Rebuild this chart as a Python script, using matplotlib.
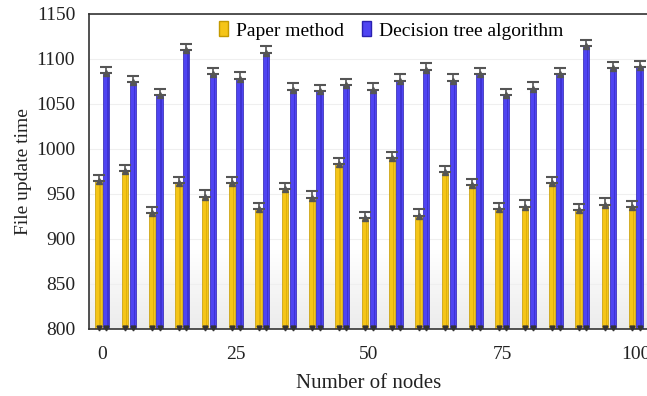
import numpy as np
import matplotlib
matplotlib.use("Agg")
import matplotlib.pyplot as plt
from matplotlib.patches import Patch

nodes = [0, 5, 10, 15, 20, 25, 30, 35, 40, 45, 50, 55, 60, 65, 70, 75, 80, 85, 90, 95, 100]
paper = [964, 975, 929, 962, 947, 962, 933, 955, 946, 983, 923, 990, 926, 974, 960, 933, 936, 962, 932, 938, 935]
tree = [1084, 1074, 1060, 1110, 1083, 1078, 1107, 1066, 1064, 1071, 1066, 1076, 1088, 1076, 1083, 1060, 1067, 1083, 1114, 1090, 1091]
paper_err = [7] * len(nodes)
tree_err = [7] * len(nodes)
xticks = [0, 25, 50, 75, 100]

plt.rcParams['font.family'] = ['Liberation Serif', 'DejaVu Serif']

fig = plt.figure(figsize=(6.47, 3.96), dpi=100)
ax = fig.add_axes([0.1376, 0.1692, 0.8655, 0.7955])

# faint reflection gradient near bottom
grad = np.linspace(0, 1, 256).reshape(-1, 1)
alpha = np.clip(1 - grad / 0.25, 0, 1) * 0.55
img = np.ones((256, 1, 4))
img[..., :3] = 0.86
img[..., 3] = alpha
ax.imshow(img, extent=[0, 1, 0, 1], transform=ax.transAxes, origin='lower',
          aspect='auto', zorder=0, interpolation='bilinear')

x = np.array(nodes, dtype=float)
w = 1.2
off = 0.72
yc, yc_dark = '#F5C518', '#C49A00'
bc, bc_dark = '#4F44F2', '#2A20B0'

ax.bar(x - off, np.array(paper) - 800, w, bottom=800, color=yc, edgecolor=yc_dark, linewidth=0.5, zorder=2)
ax.bar(x - off + w * 0.25, np.array(paper) - 800, w * 0.22, bottom=800, color=yc_dark, linewidth=0, alpha=0.45, zorder=3)
ax.bar(x + off, np.array(tree) - 800, w, bottom=800, color=bc, edgecolor=bc_dark, linewidth=0.5, zorder=2)
ax.bar(x + off + w * 0.25, np.array(tree) - 800, w * 0.22, bottom=800, color=bc_dark, linewidth=0, alpha=0.45, zorder=3)

for xs, vals, errs in [(x - off, paper, paper_err), (x + off, tree, tree_err)]:
    ax.errorbar(xs, vals, yerr=[np.zeros(len(vals)), errs], fmt='none', ecolor='#555555',
                elinewidth=1.2, capsize=4, capthick=1.5, zorder=4)
    ax.plot(xs, vals, linestyle='none', marker='^', markersize=4.5, color='#555555', zorder=5)
    ax.plot(xs, [801.5] * len(xs), linestyle='none', marker='v', markersize=3.5, color='#333333', zorder=5, clip_on=False)

ax.set_xlim(-2.5, 102.5)
ax.set_ylim(800, 1150)
ax.set_yticks(range(800, 1151, 50))
ax.set_xticks(xticks)
ax.yaxis.grid(True, color='#efefef', linewidth=0.8, zorder=1)
ax.set_axisbelow(True)

ax.tick_params(axis='both', length=0, labelsize=14, colors='#222222')
ax.tick_params(axis='x', pad=12)
ax.tick_params(axis='y', pad=10)
for s in ['left', 'bottom', 'top']:
    ax.spines[s].set_color('#333333')
    ax.spines[s].set_linewidth(1.2)
ax.spines['right'].set_visible(False)

ax.set_xlabel('Number of nodes', fontsize=15, color='#222222', labelpad=8)
ax.set_ylabel('File update time', fontsize=14, color='#222222', labelpad=3)

handles = [Patch(facecolor=yc, edgecolor=yc_dark), Patch(facecolor=bc, edgecolor=bc_dark)]
ax.legend(handles, ['Paper method', 'Decision tree algorithm'], loc='upper center',
          bbox_to_anchor=(391 / 647, 0.99), bbox_transform=fig.transFigure, ncol=2, frameon=False,
          fontsize=14, handlelength=0.5, handleheight=0.8, handletextpad=0.4, columnspacing=0.9)

fig.savefig('out.png', dpi=100)
